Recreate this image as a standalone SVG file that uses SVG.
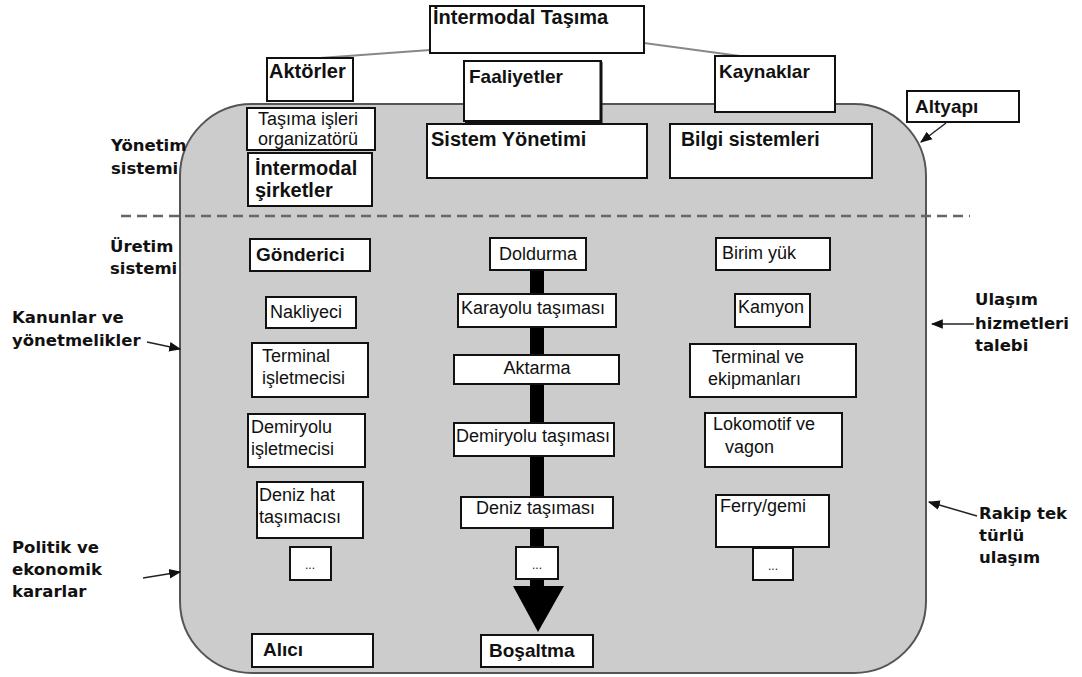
<svg xmlns="http://www.w3.org/2000/svg" width="1082" height="677" viewBox="0 0 1082 677">
<defs>
<style>
.box{fill:#fff;stroke:#111;stroke-width:2}
.t{font-family:"Liberation Sans",Arial,sans-serif;font-size:18px;fill:#111}
.b{font-family:"Liberation Sans",Arial,sans-serif;font-size:19px;font-weight:bold;fill:#111}
.lbl{font-family:"DejaVu Sans",Verdana,sans-serif;font-size:16.5px;font-weight:bold;fill:#111}
.conn{stroke:#222;stroke-width:1.5;fill:none}
</style>
<marker id="ah" viewBox="0 0 10 10" refX="9" refY="5" markerWidth="8" markerHeight="8" orient="auto"><path d="M0,1 L10,5 L0,9 z" fill="#111"/></marker>
</defs>
<rect width="1082" height="677" fill="#fff"/>
<rect id="frame" x="180" y="104" width="746" height="569" rx="72" ry="72" fill="#cccccc" stroke="#555" stroke-width="2"/>
<line x1="121" y1="216" x2="970" y2="216" stroke="#666" stroke-width="2.5" stroke-dasharray="10,6"/>

<g id="connectors">
<line x1="430" y1="50" x2="320" y2="58" stroke="#888" stroke-width="2"/>
<line x1="644" y1="43" x2="740" y2="56" stroke="#888" stroke-width="2"/>
<line class="conn" x1="946" y1="123" x2="921" y2="142" marker-end="url(#ah)"/>
<line class="conn" x1="147" y1="342" x2="180" y2="349" marker-end="url(#ah)"/>
<line class="conn" x1="143" y1="578" x2="180" y2="572" marker-end="url(#ah)"/>
<line class="conn" x1="974" y1="324" x2="932" y2="324" marker-end="url(#ah)"/>
<line class="conn" x1="977" y1="516" x2="929" y2="502" marker-end="url(#ah)"/>
<rect x="530" y="268" width="14" height="320" fill="#000"/>
<polygon points="513,586 564,586 538,632" fill="#000"/>
</g>

<g id="n-intermodal-tasima"><rect class="box" x="430" y="6" width="214" height="47"/><text class="b" x="433" y="24" style="font-size:20px">İntermodal Taşıma</text></g>
<g id="n-aktorler"><rect class="box" x="267" y="58" width="86" height="43"/><text class="b" x="269" y="78" style="font-size:20px">Aktörler</text></g>
<g id="n-faaliyetler"><rect class="box" x="464" y="61" width="137" height="60"/><path d="M601,62 V122 H465" fill="none" stroke="#111" stroke-width="3"/><text class="b" x="469" y="83">Faaliyetler</text></g>
<g id="n-kaynaklar"><rect class="box" x="715" y="56" width="120" height="56"/><text class="b" x="719" y="78">Kaynaklar</text></g>
<g id="n-altyapi"><rect class="box" x="907" y="91" width="112" height="31"/><text class="b" x="915" y="113">Altyapı</text></g>

<g id="n-tasima-isleri"><rect class="box" x="247" y="108" width="128" height="42"/><text class="t" x="258" y="125">Taşıma işleri</text><text class="t" x="258" y="145">organizatörü</text></g>
<g id="n-intermodal-sirketler"><rect class="box" x="248" y="153" width="124" height="53"/><text class="b" x="255" y="175" style="font-size:20px">İntermodal</text><text class="b" x="255" y="197" style="font-size:20px">şirketler</text></g>
<g id="n-sistem-yonetimi"><rect class="box" x="427" y="124" width="220" height="54"/><text class="b" x="431" y="146" style="font-size:20px">Sistem Yönetimi</text></g>
<g id="n-bilgi-sistemleri"><rect class="box" x="670" y="124" width="202" height="54"/><text class="b" x="681" y="146" style="font-size:19.5px">Bilgi sistemleri</text></g>

<g id="l-yonetim"><text class="lbl" x="111" y="151">Yönetim</text><text class="lbl" x="111" y="174">sistemi</text></g>
<g id="l-uretim"><text class="lbl" x="110" y="252">Üretim</text><text class="lbl" x="110" y="274">sistemi</text></g>
<g id="l-kanunlar"><text class="lbl" x="12" y="323">Kanunlar ve</text><text class="lbl" x="12" y="346">yönetmelikler</text></g>
<g id="l-politik"><text class="lbl" x="12" y="553">Politik ve</text><text class="lbl" x="12" y="575">ekonomik</text><text class="lbl" x="12" y="597">kararlar</text></g>
<g id="l-ulasim"><text class="lbl" x="975" y="305">Ulaşım</text><text class="lbl" x="975" y="329">hizmetleri</text><text class="lbl" x="975" y="351">talebi</text></g>
<g id="l-rakip"><text class="lbl" x="979" y="519">Rakip tek</text><text class="lbl" x="979" y="541">türlü</text><text class="lbl" x="979" y="563">ulaşım</text></g>

<g id="n-gonderici"><rect class="box" x="250" y="239" width="120" height="32"/><text class="b" x="256" y="261">Gönderici</text></g>
<g id="n-nakliyeci"><rect class="box" x="266" y="297" width="90" height="31"/><text class="t" x="270" y="318">Nakliyeci</text></g>
<g id="n-terminal-isletmecisi"><rect class="box" x="252" y="343" width="116" height="54"/><text class="t" x="262" y="362">Terminal</text><text class="t" x="262" y="384">işletmecisi</text></g>
<g id="n-demiryolu-isletmecisi"><rect class="box" x="248" y="414" width="117" height="53"/><text class="t" x="251" y="433">Demiryolu</text><text class="t" x="251" y="455">işletmecisi</text></g>
<g id="n-deniz-hat"><rect class="box" x="257" y="482" width="106" height="56"/><text class="t" x="259" y="501">Deniz hat</text><text class="t" x="259" y="523">taşımacısı</text></g>
<g id="n-dots1"><rect class="box" x="290" y="547" width="41" height="33"/><text class="t" x="310" y="569" text-anchor="middle" style="font-size:12px">...</text></g>
<g id="n-alici"><rect class="box" x="252" y="634" width="121" height="33"/><text class="b" x="263" y="656">Alıcı</text></g>

<g id="n-doldurma"><rect class="box" x="490" y="238" width="96" height="32"/><text class="t" x="538" y="260" text-anchor="middle">Doldurma</text></g>
<g id="n-karayolu"><rect class="box" x="458" y="294" width="158" height="33"/><text class="t" x="461" y="314">Karayolu taşıması</text></g>
<g id="n-aktarma"><rect class="box" x="454" y="355" width="165" height="29"/><text class="t" x="537" y="374" text-anchor="middle">Aktarma</text></g>
<g id="n-demiryolu-tasimasi"><rect class="box" x="454" y="423" width="160" height="33"/><text class="t" x="456" y="442">Demiryolu taşıması</text></g>
<g id="n-deniz-tasimasi"><rect class="box" x="461" y="497" width="152" height="31"/><text class="t" x="476" y="514">Deniz taşıması</text></g>
<g id="n-dots2"><rect class="box" x="516" y="547" width="42" height="32"/><text class="t" x="537" y="569" text-anchor="middle" style="font-size:12px">...</text></g>
<g id="n-bosaltma"><rect class="box" x="481" y="635" width="112" height="32"/><text class="b" x="489" y="657">Boşaltma</text></g>

<g id="n-birim-yuk"><rect class="box" x="716" y="238" width="114" height="32"/><text class="t" x="722" y="259">Birim yük</text></g>
<g id="n-kamyon"><rect class="box" x="735" y="294" width="75" height="33"/><text class="t" x="738" y="313">Kamyon</text></g>
<g id="n-terminal-ekipman"><rect class="box" x="690" y="344" width="166" height="53"/><text class="t" x="712" y="363">Terminal ve</text><text class="t" x="708" y="385">ekipmanları</text></g>
<g id="n-lokomotif"><rect class="box" x="705" y="413" width="137" height="54"/><text class="t" x="713" y="430">Lokomotif ve</text><text class="t" x="725" y="453">vagon</text></g>
<g id="n-ferry"><rect class="box" x="716" y="495" width="113" height="52"/><text class="t" x="720" y="512">Ferry/gemi</text></g>
<g id="n-dots3"><rect class="box" x="753" y="548" width="40" height="32"/><text class="t" x="773" y="570" text-anchor="middle" style="font-size:12px">...</text></g>
</svg>
